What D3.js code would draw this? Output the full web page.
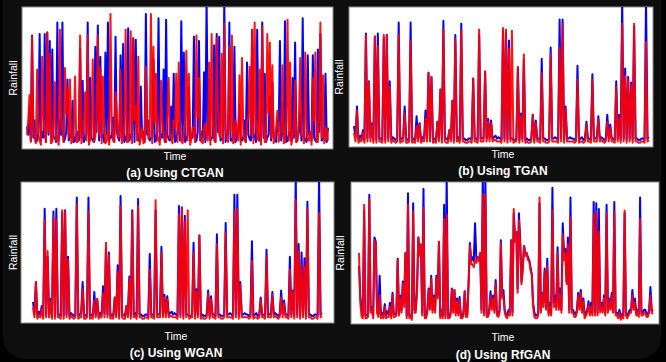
<!DOCTYPE html>
<html>
<head>
<meta charset="utf-8">
<script src="https://cdn.jsdelivr.net/npm/d3@7/dist/d3.min.js"></script>
<style>
  body { margin: 0; background: #000; }
  svg { display: block; }
</style>
</head>
<body>
<svg id="chart"></svg>
<script>
// ---- data (normalised rainfall) ----
const captions = ["(a) Using CTGAN", "(b) Using TGAN", "(c) Using WGAN", "(d) Using RfGAN"];
const xLabel = "Time";
const yLabel = "Rainfall";

// (a) CTGAN
const realA = [
  .16,.10,.30,.06,.80,.08,.20,.05,.06,.12,.81,.06,.12,.08,.81,.05,.82,.10,.76,.06,.70,.08,.08,.05,.89,.06,.20,.10,.89,.05,.07,.12,.49,.06,.10,.08,.34,.05,.06,.10,
  .12,.06,.71,.08,.48,.05,.08,.10,.89,.06,.50,.08,.06,.05,.72,.12,.87,.06,.65,.08,.10,.05,.68,.10,.89,.06,.09,.08,.22,.05,.79,.12,.08,.06,.66,.08,.74,.05,.07,.10,
  .85,.06,.10,.08,.78,.05,.77,.12,.06,.06,.44,.08,.12,.05,.95,.10,.20,.06,.08,.08,.63,.05,.06,.12,.92,.06,.10,.08,.56,.05,.91,.10,.07,.06,.30,.08,.53,.05,.06,.12,
  .18,.06,.90,.08,.68,.05,.07,.10,.43,.06,.10,.08,.79,.05,.06,.12,.76,.06,.12,.08,.54,.05,1.05,.10,.49,.06,.08,.08,.73,.05,.81,.12,.79,.06,.07,.08,1.05,.05,.10,.10,
  .89,.06,.06,.08,.72,.05,.09,.12,.31,.06,.06,.08,.20,.05,.61,.10,.07,.06,.84,.08,.10,.05,.84,.12,.06,.06,.89,.08,.53,.05,.08,.10,.37,.06,.47,.08,.07,.05,.22,.12,
  .76,.06,.32,.08,.90,.05,.06,.10,.12,.06,.50,.08,.75,.05,.08,.12,.25,.06,.92,.08,.07,.05,.66,.10,.10,.06,.66,.08,.06,.05,.70,.12,.81,.06,.07,.08,.53,.05,.15];
const synthA = [
  .10,.20,.38,.05,.79,.15,.08,.04,.56,.10,.06,.03,.65,.22,.10,.05,.82,.12,.67,.04,.05,.18,.47,.06,.09,.03,.84,.20,.12,.05,.57,.25,.43,.08,.49,.04,.06,.15,.51,.05,
  .05,.12,.80,.04,.10,.20,.40,.06,.80,.03,.07,.15,.63,.05,.08,.22,.80,.10,.57,.04,.51,.18,.04,.06,.12,.03,.95,.20,.06,.05,.40,.25,.09,.08,.56,.04,.07,.15,.84,.05,
  .05,.12,.83,.04,.78,.20,.30,.06,.65,.03,.08,.15,.04,.05,.58,.22,.07,.10,.95,.04,.72,.18,.53,.06,.08,.03,.48,.20,.10,.05,.05,.25,.50,.08,.09,.04,.20,.15,.53,.05,
  .61,.12,.06,.04,.10,.20,.69,.06,.53,.03,.07,.15,.12,.05,.80,.22,.50,.10,.05,.04,.15,.18,.08,.06,.61,.03,.81,.20,.06,.05,.78,.25,.10,.08,.67,.04,.88,.15,.07,.05,
  .72,.12,.80,.04,.05,.20,.12,.06,.52,.03,.64,.15,.06,.05,.20,.22,.58,.10,.84,.04,.89,.18,.08,.06,.56,.03,.86,.20,.05,.05,.81,.25,.75,.08,.59,.04,.07,.15,.27,.05,
  .10,.12,.59,.04,.05,.20,.91,.06,.61,.03,.08,.15,.48,.05,.06,.22,.64,.10,.10,.04,.68,.18,.06,.06,.12,.03,.50,.20,.68,.05,.05,.25,.89,.08,.52,.04,.07,.15,.06];

// (b) TGAN and (c) WGAN share the same observed series
const realBC = [
  .15,.07,.29,.05,.08,.06,.12,.05,.81,.06,.47,.07,.17,.05,.79,.05,.81,.06,.06,.05,
  .78,.05,.80,.06,.47,.05,.07,.06,.05,.06,.89,.05,.06,.07,.29,.06,.05,.06,.89,.05,
  .06,.05,.22,.06,.17,.05,.07,.06,.26,.07,.53,.06,.50,.05,.06,.05,.18,.06,.41,.05,
  .90,.06,.06,.05,.12,.06,.33,.05,.80,.06,.07,.05,.88,.06,.06,.05,.05,.06,.06,.05,
  .49,.06,.06,.05,.80,.06,.06,.07,.54,.06,.20,.07,.19,.06,.07,.08,.06,.07,.06,.05,
  .83,.06,.82,.05,.76,.06,.06,.05,.05,.06,.57,.05,.24,.06,.62,.05,.06,.05,.05,.06,
  .23,.05,.19,.06,.06,.05,.63,.06,.06,.05,.05,.06,.71,.06,.06,.07,.06,.05,.91,.06,
  .91,.05,.29,.06,.06,.07,.06,.06,.05,.06,.58,.05,.06,.07,.05,.06,.18,.06,.06,.05,
  .52,.06,.06,.07,.22,.06,.07,.06,.05,.06,.23,.07,.16,.06,.06,.05,.47,.06,.23,.05,
  1.05,.06,.56,.05,.50,.06,.46,.05,.86,.06,.06,.05,.05,.06,.06,.05,1.05,.06,.07];
const synthB = [
  .10,.04,.26,.03,.05,.04,.10,.03,.80,.04,.46,.04,.15,.03,.79,.03,.72,.04,.04,.03,
  .80,.03,.80,.04,.43,.03,.05,.04,.03,.04,.80,.03,.04,.04,.24,.03,.03,.04,.76,.03,
  .04,.03,.15,.04,.17,.03,.05,.04,.20,.04,.53,.04,.50,.03,.04,.03,.18,.04,.41,.03,
  .84,.04,.03,.03,.12,.04,.33,.03,.77,.04,.05,.03,.83,.04,.04,.03,.03,.04,.04,.03,
  .49,.04,.04,.03,.84,.04,.04,.04,.54,.04,.18,.04,.17,.04,.05,.05,.04,.04,.04,.03,
  .85,.04,.84,.03,.70,.04,.83,.03,.04,.04,.57,.03,.22,.04,.66,.03,.04,.03,.03,.04,
  .23,.03,.17,.04,.04,.03,.53,.04,.04,.03,.03,.04,.66,.04,.04,.04,.04,.03,.71,.04,
  .88,.03,.27,.04,.04,.04,.04,.04,.03,.04,.48,.03,.04,.04,.03,.04,.16,.04,.04,.03,
  .48,.04,.04,.04,.20,.04,.05,.04,.03,.04,.18,.04,.14,.04,.04,.03,.43,.04,.20,.03,
  .88,.04,.51,.03,.48,.04,.44,.03,.88,.04,.04,.03,.03,.04,.04,.03,.75,.04,.05];
const synthC = [
  .11,.04,.29,.03,.05,.04,.10,.03,.73,.04,.51,.04,.15,.03,.75,.03,.73,.04,.04,.03,
  .80,.03,.79,.04,.45,.03,.05,.04,.03,.04,.84,.03,.04,.04,.24,.03,.03,.04,.79,.03,
  .04,.03,.16,.04,.17,.03,.05,.04,.21,.04,.57,.04,.48,.03,.04,.03,.18,.04,.36,.03,
  .83,.04,.03,.03,.12,.04,.31,.03,.78,.04,.05,.03,.83,.04,.04,.03,.03,.04,.04,.03,
  .38,.04,.04,.03,.87,.04,.04,.04,.50,.04,.18,.04,.17,.04,.05,.05,.04,.04,.04,.03,
  .77,.04,.82,.03,.72,.04,.80,.03,.04,.04,.50,.03,.22,.04,.62,.03,.04,.03,.03,.04,
  .21,.03,.17,.04,.04,.03,.56,.04,.04,.03,.03,.04,.64,.04,.04,.04,.04,.03,.79,.04,
  .81,.03,.27,.04,.04,.04,.04,.04,.03,.04,.44,.03,.04,.04,.03,.04,.16,.04,.04,.03,
  .47,.04,.04,.04,.20,.04,.05,.04,.03,.04,.18,.04,.14,.04,.04,.03,.38,.04,.22,.03,
  .87,.04,.51,.03,.41,.04,.40,.03,.81,.04,.04,.03,.03,.04,.04,.03,.78,.04,.05];

// (d) RfGAN
const realD = [
  .41,.20,.10,.06,.80,.06,.06,.07,.91,.10,.12,.06,.61,.58,.10,.07,.34,.06,.08,.06,
  .14,.06,.09,.07,.15,.06,.22,.07,.07,.08,.46,.08,.20,.10,.30,.15,.50,.06,.92,.06,
  .06,.05,.85,.10,.10,.25,.61,.50,.56,.08,.95,.06,.05,.10,.25,.12,.34,.10,.20,.10,
  .34,.20,.58,.06,.10,.06,.84,.06,1.05,.06,.05,.08,.25,.10,.24,.08,.18,.08,.19,.06,
  .05,.08,.23,.07,.07,.30,.57,.45,.47,.44,.71,.46,.47,.45,.50,.10,1.05,.08,1.05,.07,
  .06,.10,.23,.12,.20,.10,.31,.08,.06,.10,.59,.20,.24,.10,.07,.06,.10,.08,.59,.08,
  .78,.60,.65,.25,.78,.60,.30,.40,.55,.50,.50,.47,.45,.40,.35,.15,.08,.06,.06,.08,
  .85,.10,.22,.15,.39,.12,.46,.08,.15,.08,.96,.15,.20,.12,.54,.12,.25,.10,.71,.50,
  .53,.30,.61,.10,.89,.10,.10,.07,.07,.10,.22,.12,.24,.10,.18,.06,.08,.10,.16,.08,
  .15,.08,.86,.08,.85,.08,.81,.10,.15,.10,.20,.08,.84,.10,.18,.12,.22,.10,.86,.08,
  .08,.06,.10,.05,.07,.06,.78,.08,.06,.08,.10,.10,.24,.12,.18,.08,.10,.07,.89,.08,
  .08,.10,.10,.07,.07,.10,.26,.10,.09];
const synthD = [
  .50,.15,.05,.04,.84,.04,.04,.05,.88,.08,.10,.04,.59,.56,.08,.05,.20,.04,.05,.04,
  .12,.04,.05,.05,.12,.04,.20,.05,.05,.06,.45,.06,.18,.08,.28,.12,.50,.04,.84,.04,
  .05,.03,.79,.08,.08,.22,.61,.48,.56,.06,.82,.04,.04,.08,.24,.10,.32,.08,.18,.08,
  .32,.18,.58,.04,.08,.04,.74,.04,.77,.04,.04,.06,.24,.08,.24,.06,.16,.06,.17,.04,
  .04,.06,.23,.05,.05,.28,.55,.42,.42,.40,.45,.43,.47,.44,.50,.08,.91,.06,.91,.05,
  .05,.08,.20,.10,.18,.08,.28,.06,.05,.08,.57,.18,.20,.08,.05,.04,.08,.06,.59,.06,
  .81,.58,.65,.22,.73,.56,.28,.38,.55,.48,.50,.45,.45,.38,.35,.12,.05,.04,.04,.06,
  .89,.08,.20,.12,.37,.10,.41,.06,.12,.06,.80,.12,.16,.10,.50,.10,.20,.08,.63,.45,
  .50,.28,.56,.08,.75,.08,.08,.05,.05,.08,.20,.10,.22,.08,.16,.04,.06,.08,.14,.06,
  .12,.06,.77,.06,.79,.06,.65,.08,.12,.08,.18,.06,.78,.08,.15,.10,.20,.08,.79,.06,
  .06,.04,.08,.03,.05,.04,.80,.06,.04,.06,.08,.08,.20,.10,.15,.06,.08,.05,.74,.06,
  .06,.08,.08,.05,.05,.08,.20,.08,.07];

const realSeries = [realA, realBC, realBC, realD];
const synthSeries = [synthA, synthB, synthC, synthD];

// ---- layout ----
const W = 666, H = 362;
const boxes = [
  { x: 22,  y: 7,   w: 311, h: 142, padL: 5,  padR: 5,  yl: 17,  time: 160, cap: 177, cx: 175 },
  { x: 349, y: 7,   w: 304, h: 140, padL: 5,  padR: 4,  yl: 343, time: 158, cap: 175, cx: 503 },
  { x: 21,  y: 182, w: 313, h: 141, padL: 12, padR: 12, yl: 17,  time: 340, cap: 357, cx: 176 },
  { x: 351, y: 182, w: 308, h: 142, padL: 8,  padR: 6,  yl: 344, time: 341, cap: 359, cx: 503 }
];
const font = "'Liberation Sans', Arial, sans-serif";

const svg = d3.select("#chart").attr("width", W).attr("height", H);

// dark rounded backdrop over black
svg.append("rect").attr("width", W).attr("height", H).attr("fill", "#000");
svg.append("rect")
  .attr("x", 3).attr("y", -30).attr("width", 658).attr("height", 389)
  .attr("rx", 22).attr("fill", "#0e0e0e");

boxes.forEach((b, k) => {
  const real = realSeries[k], synth = synthSeries[k];

  const x = d3.scaleLinear()
    .domain([0, real.length - 1])
    .range([b.x + b.padL, b.x + b.w - b.padR]);
  const y = d3.scaleLinear()
    .domain([0, 1])
    .range([b.y + b.h, b.y]);

  svg.append("clipPath").attr("id", "clip" + k)
    .append("rect").attr("x", b.x).attr("y", b.y).attr("width", b.w).attr("height", b.h);

  svg.append("rect")
    .attr("x", b.x).attr("y", b.y).attr("width", b.w).attr("height", b.h)
    .attr("fill", "#fff").attr("stroke", "#8a8a8a").attr("stroke-width", 1);

  const line = d3.line().x((d, i) => x(i)).y(d => y(d));

  const g = svg.append("g").attr("clip-path", "url(#clip" + k + ")");
  g.append("path").datum(real)
    .attr("fill", "none").attr("stroke", "#0000ff").attr("stroke-width", 2)
    .attr("stroke-linejoin", "round")
    .attr("d", line);
  g.append("path").datum(synth)
    .attr("fill", "none").attr("stroke", "#ff0000").attr("stroke-width", 2)
    .attr("stroke-opacity", 0.92).attr("stroke-linejoin", "round")
    .attr("d", line);

  // axis labels
  svg.append("text")
    .attr("transform", "translate(" + b.yl + "," + (b.y + b.h / 2) + ")rotate(-90)")
    .attr("text-anchor", "middle")
    .style("font", "10.5px " + font).attr("fill", "#fff")
    .text(yLabel);

  svg.append("text")
    .attr("x", b.cx).attr("y", b.time)
    .attr("text-anchor", "middle")
    .style("font", "10.5px " + font).attr("fill", "#fff")
    .text(xLabel);

  svg.append("text")
    .attr("x", b.cx).attr("y", b.cap)
    .attr("text-anchor", "middle")
    .style("font", "bold 12px " + font).attr("fill", "#fff")
    .text(captions[k]);
});
</script>
</body>
</html>
